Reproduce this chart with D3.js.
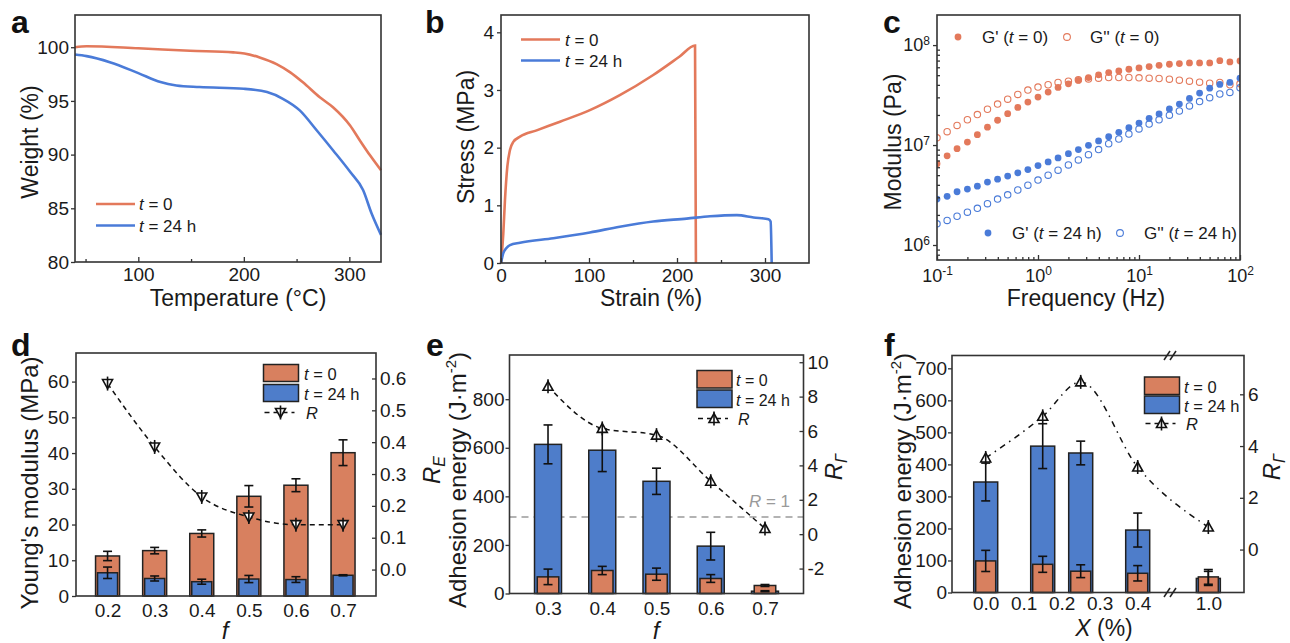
<!DOCTYPE html>
<html><head><meta charset="utf-8">
<script src="https://cdn.jsdelivr.net/npm/d3@7"></script>
<style>
body{margin:0;background:#fff;}
svg{display:block;font-family:'Liberation Sans',Arial,sans-serif;}
</style></head><body>
<svg id="fig" width="1290" height="643"></svg>
<script>
// ---- data ----
// a: TGA
const tgaTemp0 = [40, 51, 100, 149, 190, 200.5, 215, 231, 244, 256, 272, 284.5, 300.7, 310, 319.6, 330];
const tgaW0 = [100, 100.09, 99.9, 99.67, 99.52, 99.42, 99.05, 98.43, 97.66, 96.73, 95.34, 94.41, 92.71, 91.32, 89.93, 88.54];
const tgaTemp24 = [40, 51, 73, 100, 121, 136, 158, 200, 222, 237, 253, 269, 284.5, 300.7, 313, 321, 330];
const tgaW24 = [99.32, 99.17, 98.61, 97.59, 96.75, 96.44, 96.29, 96.13, 95.82, 95.2, 94.12, 92.27, 90.41, 88.4, 86.7, 84.54, 82.53];

// b: tensile
const strain0 = [0, 2.6, 4.5, 7.2, 10.2, 14, 21.6, 40.5, 67, 101, 135, 173, 203, 220.5, 221.5];
const stress0 = [0, 0.51, 1.09, 1.67, 1.96, 2.10, 2.19, 2.30, 2.45, 2.65, 2.91, 3.26, 3.58, 3.77, 0];
const strain24 = [0, 2.6, 5.7, 10.2, 21.6, 59.5, 101, 135, 173, 211, 237.5, 268, 287, 304, 306.4, 307.6];
const stress24 = [0, 0.17, 0.25, 0.31, 0.35, 0.43, 0.53, 0.63, 0.72, 0.77, 0.81, 0.83, 0.79, 0.76, 0.72, 0];

// c: rheology
const freq = [0.1, 0.126, 0.158, 0.2, 0.251, 0.316, 0.398, 0.501, 0.631, 0.794, 1, 1.26, 1.58, 2, 2.51, 3.16, 3.98, 5.01, 6.31, 7.94,
  10, 12.6, 15.8, 20, 25.1, 31.6, 39.8, 50.1, 63.1, 79.4, 100];
const gp0 = [6.5e6, 7.8e6, 9.2e6, 1.07e7, 1.27e7, 1.51e7, 1.77e7, 2.06e7, 2.38e7, 2.69e7, 3.02e7, 3.39e7, 3.77e7, 4.1e7, 4.43e7, 4.73e7,
  5.04e7, 5.31e7, 5.52e7, 5.73e7, 5.91e7, 6.09e7, 6.28e7, 6.43e7, 6.53e7, 6.63e7, 6.63e7, 6.63e7, 6.98e7, 6.78e7, 6.93e7];
const gpp0 = [1.18e7, 1.36e7, 1.57e7, 1.79e7, 2.02e7, 2.28e7, 2.57e7, 2.88e7, 3.21e7, 3.55e7, 3.8e7, 4.01e7, 4.23e7, 4.36e7, 4.49e7, 4.59e7,
  4.67e7, 4.74e7, 4.74e7, 4.74e7, 4.7e7, 4.67e7, 4.63e7, 4.56e7, 4.46e7, 4.36e7, 4.26e7, 4.16e7, 4.23e7, 4.01e7, 4.1e7];
const gp24 = [2.88e6, 3.07e6, 3.41e6, 3.63e6, 3.88e6, 4.26e6, 4.56e6, 4.89e6, 5.27e6, 5.69e6, 6.23e6, 6.78e6, 7.43e6, 8.2e6, 9.0e6, 9.93e6,
  1.1e7, 1.21e7, 1.34e7, 1.49e7, 1.66e7, 1.85e7, 2.05e7, 2.3e7, 2.57e7, 2.93e7, 3.31e7, 3.71e7, 4.04e7, 4.23e7, 4.67e7];
const gpp24 = [1.63e6, 1.76e6, 1.94e6, 2.13e6, 2.33e6, 2.59e6, 2.88e6, 3.18e6, 3.55e6, 3.97e6, 4.46e6, 5.0e6, 5.6e6, 6.33e6, 7.1e6, 8.02e6,
  9.0e6, 1.03e7, 1.15e7, 1.29e7, 1.45e7, 1.62e7, 1.79e7, 1.99e7, 2.19e7, 2.46e7, 2.72e7, 2.98e7, 3.24e7, 3.36e7, 3.74e7];

// d: Young's modulus
const fD = [0.2, 0.3, 0.4, 0.5, 0.6, 0.7];
const dE0 = [11.2, 12.7, 17.5, 27.9, 31.0, 40.1];
const dE0Err = [1.3, 0.9, 1.0, 3.0, 1.8, 3.6];
const dE24 = [6.5, 4.9, 4.0, 4.75, 4.6, 5.8];
const dE24Err = [1.6, 0.7, 0.7, 1.0, 0.8, 0.15];
const dR = [0.584, 0.385, 0.228, 0.165, 0.141, 0.141];

// e: adhesion vs f
const fE = [0.3, 0.4, 0.5, 0.6, 0.7];
const eG0 = [68.5, 94.7, 79.5, 61.8, 33];
const eG0Err = [32, 17, 25, 16, 4];
const eG24 = [614, 590, 462, 195, 9.5];
const eG24Err = [80, 88, 54, 57, 2];
const eR = [8.6, 6.15, 5.76, 3.08, 0.33];

// f: adhesion vs X
const xF = [0.0, 0.15, 0.25, 0.4, 1.0];
const fG0 = [98.6, 88, 66.5, 60, 48.7];
const fG0Err = [33, 25, 20, 24, 23];
const fG24 = [345, 457, 435.6, 195, 44];
const fG24Err = [59, 70, 37, 53, 22];
const fR = [3.54, 5.15, 6.48, 3.19, 0.87];

// ---- styles ----
const ORANGE = "#e3795b", BLUE = "#4a7bd8";
const BAR_OR = "#d8805f", BAR_BL = "#4e7dca";
const INK = "#1a1a1a";

const svg = d3.select("#fig");

function frame(x0, y0, x1, y1) {
  svg.append("rect").attr("x", x0).attr("y", y0).attr("width", x1 - x0).attr("height", y1 - y0)
    .attr("fill", "none").attr("stroke", "#333").attr("stroke-width", 1.6);
}
function place(axis, tx, ty, size) {
  const g = svg.append("g").attr("transform", `translate(${tx},${ty})`).call(axis);
  g.select(".domain").remove();
  g.selectAll("line").attr("stroke", "#333").attr("stroke-width", 1.3);
  g.selectAll("text").attr("font-size", size).attr("fill", INK).attr("font-family", null);
  return g;
}
function letter(ch, x, y) {
  svg.append("text").attr("x", x).attr("y", y).attr("font-size", 32).attr("font-weight", "bold")
    .attr("fill", "#111").text(ch);
}
function title(txt, x, y, size) {
  return svg.append("text").attr("x", x).attr("y", y).attr("text-anchor", "middle")
    .attr("font-size", size).attr("fill", INK).text(txt);
}
function vtitle(x, y, size) {
  return svg.append("text").attr("transform", `translate(${x},${y}) rotate(-90)`)
    .attr("text-anchor", "middle").attr("font-size", size).attr("fill", INK);
}
function tLabel(g, x, y, rest, size) {
  const t = g.append("text").attr("x", x).attr("y", y).attr("font-size", size).attr("fill", INK);
  t.append("tspan").attr("font-style", "italic").text("t");
  t.append("tspan").text(rest);
}
function clip(id, x0, y0, x1, y1) {
  svg.append("clipPath").attr("id", id).append("rect")
    .attr("x", x0).attr("y", y0).attr("width", x1 - x0).attr("height", y1 - y0);
}
const intFmt = d3.format("d");

// ================= a =================
{
  const x = d3.scaleLinear().domain([40, 330]).range([75, 381]);
  const y = d3.scaleLinear().domain([80, 103]).range([262, 15]);
  const line = d3.line().x(d => x(d[0])).y(d => y(d[1])).curve(d3.curveMonotoneX);
  svg.append("path").datum(d3.zip(tgaTemp0, tgaW0)).attr("d", line)
    .attr("fill", "none").attr("stroke", ORANGE).attr("stroke-width", 2.6);
  svg.append("path").datum(d3.zip(tgaTemp24, tgaW24)).attr("d", line)
    .attr("fill", "none").attr("stroke", BLUE).attr("stroke-width", 2.6);
  place(d3.axisBottom(x).tickValues([100, 200, 300]).tickSize(-5).tickPadding(6).tickFormat(intFmt), 0, 262, 19);
  place(d3.axisBottom(x).tickValues([50, 150, 250]).tickSize(-3).tickFormat(""), 0, 262, 19);
  place(d3.axisLeft(y).tickValues([80, 85, 90, 95, 100]).tickSize(4).tickPadding(2).tickFormat(intFmt), 75, 0, 19);
  frame(75, 15, 381, 262);
  title("Temperature (°C)", 238, 306, 23);
  vtitle(38, 142, 23).text("Weight (%)");
  const lg = svg.append("g");
  lg.append("line").attr("x1", 96).attr("x2", 135).attr("y1", 204).attr("y2", 204).attr("stroke", ORANGE).attr("stroke-width", 2.6);
  lg.append("line").attr("x1", 96).attr("x2", 135).attr("y1", 225.5).attr("y2", 225.5).attr("stroke", BLUE).attr("stroke-width", 2.6);
  tLabel(lg, 139, 210, " = 0", 17);
  tLabel(lg, 139, 231.5, " = 24 h", 17);
  letter("a", 11, 33);
}

// ================= b =================
{
  const x = d3.scaleLinear().domain([0, 350]).range([501, 809]);
  const y = d3.scaleLinear().domain([0, 4.3]).range([263, 15]);
  const line = d3.line().x(d => x(d[0])).y(d => y(d[1])).curve(d3.curveMonotoneX);
  svg.append("path").datum(d3.zip(strain0, stress0)).attr("d", line)
    .attr("fill", "none").attr("stroke", ORANGE).attr("stroke-width", 2.6);
  svg.append("path").datum(d3.zip(strain24, stress24)).attr("d", line)
    .attr("fill", "none").attr("stroke", BLUE).attr("stroke-width", 2.6);
  place(d3.axisBottom(x).tickValues([0, 100, 200, 300]).tickSize(-5).tickPadding(6).tickFormat(intFmt), 0, 263, 19);
  place(d3.axisBottom(x).tickValues([50, 150, 250]).tickSize(-3).tickFormat(""), 0, 263, 19);
  place(d3.axisLeft(y).tickValues([0, 1, 2, 3, 4]).tickSize(4).tickPadding(3).tickFormat(intFmt), 501, 0, 19);
  frame(501, 15, 809, 263);
  title("Strain (%)", 651, 306, 23);
  vtitle(474, 137, 23).text("Stress (MPa)");
  const lg = svg.append("g");
  lg.append("line").attr("x1", 521).attr("x2", 560).attr("y1", 39.5).attr("y2", 39.5).attr("stroke", ORANGE).attr("stroke-width", 2.6);
  lg.append("line").attr("x1", 521).attr("x2", 560).attr("y1", 60.5).attr("y2", 60.5).attr("stroke", BLUE).attr("stroke-width", 2.6);
  tLabel(lg, 565, 45.5, " = 0", 17);
  tLabel(lg, 565, 66.5, " = 24 h", 17);
  letter("b", 425, 33);
}

// ================= c =================
{
  const x = d3.scaleLog().domain([0.1, 100]).range([937, 1240]);
  const y = d3.scaleLog().domain([Math.pow(10, 5.85), 2e8]).range([260, 15]);
  clip("clipC", 937, 15, 1240, 260);
  const pts = svg.append("g").attr("clip-path", "url(#clipC)");
  const series = [
    [gpp0, ORANGE, false], [gp0, ORANGE, true], [gpp24, BLUE, false], [gp24, BLUE, true]
  ];
  series.forEach(([vals, col, filled]) => {
    pts.append("g").selectAll("circle").data(d3.zip(freq, vals)).enter().append("circle")
      .attr("cx", d => x(d[0])).attr("cy", d => y(d[1])).attr("r", filled ? 3.4 : 3.2)
      .attr("fill", filled ? col : "none").attr("stroke", col).attr("stroke-width", filled ? 0 : 1.1);
  });
  const sup = function (d) {
    const t = d3.select(this);
    t.text(null);
    t.append("tspan").text("10");
    t.append("tspan").attr("dy", "-0.55em").attr("font-size", 12).text(Math.round(Math.log10(d)));
  };
  const minorX = [], minorY = [];
  [0.1, 1, 10].forEach(b => { for (let k = 2; k <= 9; k++) minorX.push(b * k); });
  [1e5, 1e6, 1e7, 1e8].forEach(b => { for (let k = 2; k <= 9; k++) { const v = b * k; if (v > Math.pow(10, 5.85) && v < 2e8) minorY.push(v); } });
  const gx = place(d3.axisBottom(x).tickValues([0.1, 1, 10, 100]).tickSize(-5).tickPadding(9), 0, 260, 18);
  gx.selectAll("text").each(sup);
  place(d3.axisBottom(x).tickValues(minorX).tickSize(-3).tickFormat(""), 0, 260, 18);
  const gy = place(d3.axisLeft(y).tickValues([1e6, 1e7, 1e8]).tickSize(4).tickPadding(3), 937, 0, 18);
  gy.selectAll("text").each(sup);
  place(d3.axisLeft(y).tickValues(minorY).tickSize(-3).tickFormat(""), 937, 0, 18);
  frame(937, 15, 1240, 260);
  title("Frequency (Hz)", 1086, 306, 23);
  vtitle(901, 142, 23).text("Modulus (Pa)");
  const lg = svg.append("g");
  const gl = (cx, cy, col, filled, tx, pre, rest) => {
    lg.append("circle").attr("cx", cx).attr("cy", cy).attr("r", 3.4)
      .attr("fill", filled ? col : "none").attr("stroke", col).attr("stroke-width", filled ? 0 : 1.1);
    const t = lg.append("text").attr("x", tx).attr("y", cy + 6).attr("font-size", 17).attr("fill", INK);
    t.append("tspan").text(pre + " (");
    t.append("tspan").attr("font-style", "italic").text("t");
    t.append("tspan").text(rest + ")");
  };
  gl(958, 37, ORANGE, true, 982, "G'", " = 0");
  gl(1067, 37, ORANGE, false, 1090, "G''", " = 0");
  gl(988, 233, BLUE, true, 1012, "G'", " = 24 h");
  gl(1120, 233, BLUE, false, 1144, "G''", " = 24 h");
  letter("c", 883, 33);
}

// ---- helpers for bar panels ----
function bars(xs, vals, errs, x, y, w, fill) {
  const g = svg.append("g");
  g.selectAll("rect").data(d3.zip(xs, vals)).enter().append("rect")
    .attr("x", d => x(d[0]) - w / 2).attr("y", d => y(d[1]))
    .attr("width", w).attr("height", d => y(0) - y(d[1]))
    .attr("fill", fill).attr("stroke", "#222").attr("stroke-width", 1.5);
  return g;
}
function errorBars(xs, vals, errs, x, y) {
  const g = svg.append("g").attr("stroke", "#111").attr("stroke-width", 1.6).attr("fill", "none");
  d3.zip(xs, vals, errs).forEach(([a, v, e]) => {
    const cx = x(a), top = y(v + e), bot = y(v - e);
    g.append("line").attr("x1", cx).attr("x2", cx).attr("y1", top).attr("y2", bot);
    g.append("line").attr("x1", cx - 4.5).attr("x2", cx + 4.5).attr("y1", top).attr("y2", top);
    g.append("line").attr("x1", cx - 4.5).attr("x2", cx + 4.5).attr("y1", bot).attr("y2", bot);
  });
}
function triMarker(g, cx, cy, down) {
  const s = down ? 1 : -1;
  g.append("path")
    .attr("d", `M${cx - 5},${cy - 4 * s}L${cx + 5},${cy - 4 * s}L${cx},${cy + 5 * s}Z`)
    .attr("fill", "#fff").attr("stroke", "#111").attr("stroke-width", 1.6);
  g.append("line").attr("x1", cx).attr("x2", cx).attr("y1", cy - 7).attr("y2", cy + 7)
    .attr("stroke", "#111").attr("stroke-width", 1.6);
}
function ratioLine(xs, rs, x, yr, down, dash) {
  const line = d3.line().x(d => x(d[0])).y(d => yr(d[1])).curve(d3.curveMonotoneX);
  svg.append("path").datum(d3.zip(xs, rs)).attr("d", line).attr("fill", "none")
    .attr("stroke", "#111").attr("stroke-width", 1.5).attr("stroke-dasharray", dash);
  const g = svg.append("g");
  d3.zip(xs, rs).forEach(([a, r]) => triMarker(g, x(a), yr(r), down));
}
function barLegend(x0, yO, yB, h, tx, yR, down, dash, size) {
  const g = svg.append("g");
  g.append("rect").attr("x", x0).attr("y", yO).attr("width", 35).attr("height", h)
    .attr("fill", BAR_OR).attr("stroke", "#222").attr("stroke-width", 1.5);
  g.append("rect").attr("x", x0).attr("y", yB).attr("width", 35).attr("height", h)
    .attr("fill", BAR_BL).attr("stroke", "#222").attr("stroke-width", 1.5);
  tLabel(g, tx, yO + h - 2, " = 0", size);
  tLabel(g, tx, yB + h - 2, " = 24 h", size);
  g.append("line").attr("x1", x0 + 1).attr("x2", x0 + 31).attr("y1", yR).attr("y2", yR)
    .attr("stroke", "#111").attr("stroke-width", 1.5).attr("stroke-dasharray", dash);
  triMarker(g, x0 + 17, yR, down);
  g.append("text").attr("x", tx + 2).attr("y", yR + 6).attr("font-size", size)
    .attr("font-style", "italic").attr("fill", INK).text("R");
}
function subTitle(x, y, main, sub) {
  const t = vtitle(x, y, 24);
  t.append("tspan").attr("font-style", "italic").text(main);
  t.append("tspan").attr("font-style", "italic").attr("font-size", 16).attr("dy", "0.3em").text(sub);
}
function energyTitle(x, y) {
  const t = vtitle(x, y, 24);
  t.append("tspan").text("Adhesion energy (J·m");
  t.append("tspan").attr("font-size", 15).attr("dy", "-0.7em").text("-2");
  t.append("tspan").attr("dy", "0.45em").text(")");
}

// ================= d =================
{
  const x = d3.scaleLinear().domain([0.133, 0.77]).range([76, 376]);
  const y = d3.scaleLinear().domain([0, 68]).range([596, 353]);
  const yr = d3.scaleLinear().domain([-0.083, 0.68]).range([596, 353]);
  bars(fD, dE0, dE0Err, x, y, 24, BAR_OR);
  bars(fD, dE24, dE24Err, x, y, 20, BAR_BL);
  errorBars(fD, dE0, dE0Err, x, y);
  errorBars(fD, dE24, dE24Err, x, y);
  ratioLine(fD, dR, x, yr, true, "5,4");
  place(d3.axisBottom(x).tickValues(fD).tickSize(0).tickPadding(8).tickFormat(d3.format(".1f")), 0, 596, 19);
  place(d3.axisLeft(y).tickValues([0, 10, 20, 30, 40, 50, 60]).tickSize(4).tickPadding(3).tickFormat(intFmt), 76, 0, 19);
  place(d3.axisRight(yr).tickValues([0, 0.1, 0.2, 0.3, 0.4, 0.5, 0.6]).tickSize(-4).tickPadding(4).tickFormat(d3.format(".1f")), 376, 0, 19);
  frame(76, 353, 376, 596);
  barLegend(263.5, 364.5, 384.5, 17, 304, 412.5, true, "5,4", 16.5);
  title("f", 225, 639, 24).attr("font-style", "italic");
  vtitle(38, 483, 24).text("Young's modulus (MPa)");
  subTitle(440, 470, "R", "E");
  letter("d", 11, 356);
}

// ================= e =================
{
  const x = d3.scaleLinear().domain([0.229, 0.771]).range([509.5, 803.5]);
  const y = d3.scaleLinear().domain([0, 982]).range([593.5, 355]);
  const yr = d3.scaleLinear().domain([-3.45, 10.42]).range([593.5, 355]);
  svg.append("line").attr("x1", 509.5).attr("x2", 803.5).attr("y1", yr(1)).attr("y2", yr(1))
    .attr("stroke", "#9a9a9a").attr("stroke-width", 1.6).attr("stroke-dasharray", "7,5");
  const r1 = svg.append("text").attr("x", 790).attr("y", 507).attr("text-anchor", "end")
    .attr("font-size", 17).attr("fill", "#9a9a9a");
  r1.append("tspan").attr("font-style", "italic").text("R");
  r1.append("tspan").text(" = 1");
  bars(fE, eG24, eG24Err, x, y, 27, BAR_BL);
  bars(fE, eG0, eG0Err, x, y, 21.5, BAR_OR);
  errorBars(fE, eG24, eG24Err, x, y);
  errorBars(fE, eG0, eG0Err, x, y);
  ratioLine(fE, eR, x, yr, false, "5,4");
  place(d3.axisBottom(x).tickValues(fE).tickSize(0).tickPadding(8).tickFormat(d3.format(".1f")), 0, 593.5, 19);
  place(d3.axisLeft(y).tickValues([0, 200, 400, 600, 800]).tickSize(4).tickPadding(1).tickFormat(intFmt), 509.5, 0, 19);
  place(d3.axisRight(yr).tickValues([-2, 0, 2, 4, 6, 8, 10]).tickSize(-4).tickPadding(4)
    .tickFormat(d => d < 0 ? "-" + Math.abs(d) : String(d)), 803.5, 0, 19);
  frame(509.5, 355, 803.5, 593.5);
  barLegend(697, 370.5, 390, 17.5, 736, 418.5, false, "5,4", 16);
  title("f", 656, 639, 24).attr("font-style", "italic");
  energyTitle(466, 480);
  subTitle(842, 467, "R", "Γ");
  letter("e", 426, 356);
}

// ================= f =================
{
  const x = d3.scaleLinear().domain([-0.0887, 0.485, 0.899, 1.094]).range([952, 1170, 1170, 1244]);
  const y = d3.scaleLinear().domain([0, 740]).range([592.5, 355.5]);
  const yr = d3.scaleLinear().domain([-1.66, 7.5]).range([592.5, 355.5]);
  bars(xF, fG24, fG24Err, x, y, 24, BAR_BL);
  bars(xF, fG0, fG0Err, x, y, 20, BAR_OR);
  errorBars(xF, fG24, fG24Err, x, y);
  errorBars(xF, fG0, fG0Err, x, y);
  ratioLine(xF, fR, x, yr, false, "6,5,1.5,5");
  place(d3.axisBottom(x).tickValues([0, 0.1, 0.2, 0.3, 0.4, 1.0]).tickSize(0).tickPadding(4).tickFormat(d3.format(".1f")), 0, 592.5, 19);
  place(d3.axisLeft(y).tickValues(d3.range(0, 701, 100)).tickSize(4).tickPadding(1).tickFormat(intFmt), 952, 0, 19);
  place(d3.axisRight(yr).tickValues([0, 2, 4, 6]).tickSize(-4).tickPadding(4).tickFormat(intFmt), 1244, 0, 19);
  frame(952, 355.5, 1244, 592.5);
  // axis break marks
  const brk = svg.append("g").attr("stroke", "#222").attr("stroke-width", 1.5);
  [355.5, 592.5].forEach(yy => {
    [1167, 1173].forEach(xx => {
      brk.append("line").attr("x1", xx - 3).attr("x2", xx + 3).attr("y1", yy + 4.5).attr("y2", yy - 4.5);
    });
  });
  barLegend(1144.5, 377, 396, 17.5, 1184, 423.5, false, "5,4", 16.5);
  const xt = title("", 1104, 636, 23);
  xt.append("tspan").attr("font-style", "italic").text("X");
  xt.append("tspan").text(" (%)");
  energyTitle(911, 481);
  subTitle(1280, 467, "R", "Γ");
  letter("f", 884, 356);
}
</script></body></html>
